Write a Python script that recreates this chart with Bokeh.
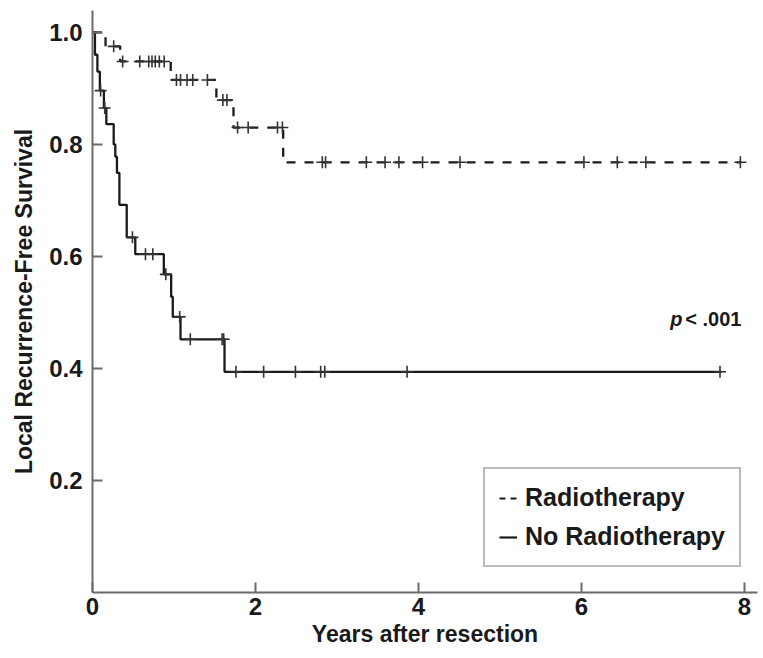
from bokeh.plotting import figure
from bokeh.models import FixedTicker, Legend, LegendItem, Label, Range1d
from bokeh.embed import file_html
from bokeh.resources import INLINE
import numpy as np

# ---- data ----
x_ticks = [0, 2, 4, 6, 8]
y_ticks = [0.2, 0.4, 0.6, 0.8, 1.0]
y_tick_labels = ["0.2", "0.4", "0.6", "0.8", "1.0"]

# Radiotherapy (dashed)
rt_event_t = [0.16, 0.34, 0.96, 1.52, 1.73, 2.34]
rt_level = [0.975, 0.948, 0.915, 0.879, 0.830, 0.768]
rt_end = 7.96
rt_censor_t = [0.26, 0.37, 0.58, 0.69, 0.73, 0.77, 0.82, 0.88,
               1.03, 1.08, 1.16, 1.23, 1.41, 1.60, 1.65,
               1.78, 1.91, 2.27, 2.33,
               2.82, 2.86, 3.36, 3.59, 3.76, 4.05, 4.51, 6.03, 6.44, 6.79, 7.95]

# No Radiotherapy (solid)
nrt_event_t = [0.03, 0.06, 0.09, 0.14, 0.17, 0.26, 0.28, 0.30, 0.33, 0.42,
               0.525, 0.875, 0.965, 0.985, 1.08, 1.62]
nrt_level = [0.96, 0.93, 0.896, 0.865, 0.836, 0.80, 0.778, 0.749, 0.692, 0.634,
             0.604, 0.568, 0.528, 0.492, 0.452, 0.394]
nrt_end = 7.72
nrt_censor_t = [0.10, 0.15, 0.49, 0.65, 0.74, 0.90, 1.07, 1.20, 1.59, 1.61,
                1.76, 2.10, 2.49, 2.80, 2.85, 3.86, 7.70]

p_text = "< .001"

# ---- helpers ----
def step_xy(ev_t, lev, end):
    xs = [0.0] + list(ev_t) + [end]
    ys = [1.0] + list(lev) + [lev[-1]]
    return xs, ys

def level_at(ev_t, lev, ts):
    idx = np.searchsorted(np.array(ev_t), np.array(ts), side="right")
    full = np.array([1.0] + list(lev))
    return list(full[idx])

FONT = "Liberation Sans"
INK = "#1a1a1a"
AX = "#6b6b6b"

p = figure(width=760, height=655, output_backend="svg", toolbar_location=None,
           x_range=Range1d(0, 8.16), y_range=Range1d(0, 1.039),
           min_border_left=92, min_border_right=3, min_border_top=10,
           min_border_bottom=63)
p.outline_line_color = None
p.xgrid.visible = False
p.ygrid.visible = False
p.background_fill_color = "white"

for ax in (p.xaxis[0], p.yaxis[0]):
    ax.axis_line_color = AX
    ax.axis_line_width = 2
    ax.major_tick_line_color = AX
    ax.major_tick_line_width = 2
    ax.major_tick_in = 10
    ax.major_tick_out = 0
    ax.minor_tick_line_color = None
    ax.major_label_text_font = FONT
    ax.major_label_text_font_style = "bold"
    ax.major_label_text_font_size = "24px"
    ax.major_label_text_color = INK
    ax.axis_label_text_font = FONT
    ax.axis_label_text_font_style = "bold"
    ax.axis_label_text_font_size = "23px"
    ax.axis_label_text_color = INK

p.xaxis.ticker = FixedTicker(ticks=x_ticks)
p.yaxis.ticker = FixedTicker(ticks=y_ticks)
p.yaxis.major_label_overrides = {t: l for t, l in zip(y_ticks, y_tick_labels)}
p.xaxis.axis_label = "Years after resection"
p.yaxis.axis_label = "Local Recurrence-Free Survival"
p.xaxis.major_label_standoff = 5
p.xaxis.axis_label_standoff = 3
p.yaxis.major_label_standoff = 10
p.yaxis.axis_label_standoff = 9

rx, ry = step_xy(rt_event_t, rt_level, rt_end)
nx, ny = step_xy(nrt_event_t, nrt_level, nrt_end)

r_rt = p.step(rx, ry, mode="after", line_width=2.3, line_color=INK, line_dash="9 9")
r_nrt = p.step(nx, ny, mode="after", line_width=2.3, line_color=INK)

p.cross(x=rt_censor_t, y=level_at(rt_event_t, rt_level, rt_censor_t),
        size=12, line_width=1.6, line_color="#333333")
p.cross(x=nrt_censor_t, y=level_at(nrt_event_t, nrt_level, nrt_censor_t),
        size=12, line_width=1.6, line_color="#333333")

# legend-only glyphs (no drawable data) so the dashed key shows "- -"
nan2 = [float("nan"), float("nan")]
leg_rt = p.line(x=nan2, y=nan2, line_width=2.2, line_color=INK, line_dash="6 5")
leg_nrt = p.line(x=nan2, y=nan2, line_width=2.2, line_color=INK)

legend = Legend(items=[LegendItem(label="Radiotherapy", renderers=[leg_rt]),
                       LegendItem(label="No Radiotherapy", renderers=[leg_nrt])],
                location=(391, 25))
legend.label_text_font = FONT
legend.label_text_font_style = "bold"
legend.label_text_font_size = "25px"
legend.label_text_color = INK
legend.glyph_width = 18
legend.label_standoff = 8
legend.padding = 14
legend.spacing = 10
legend.border_line_color = "#777777"
legend.border_line_width = 2
legend.background_fill_alpha = 1
p.add_layout(legend)

p.add_layout(Label(x=7.09, y=0.489, text="p", text_font=FONT, text_font_style="bold italic",
                   text_font_size="20px", text_baseline="middle", text_color=INK))
p.add_layout(Label(x=7.09, y=0.489, x_offset=15, text=p_text, text_font=FONT,
                   text_font_style="bold", text_font_size="20px",
                   text_baseline="middle", text_color=INK))

open("out.html", "w").write(file_html(p, INLINE))
